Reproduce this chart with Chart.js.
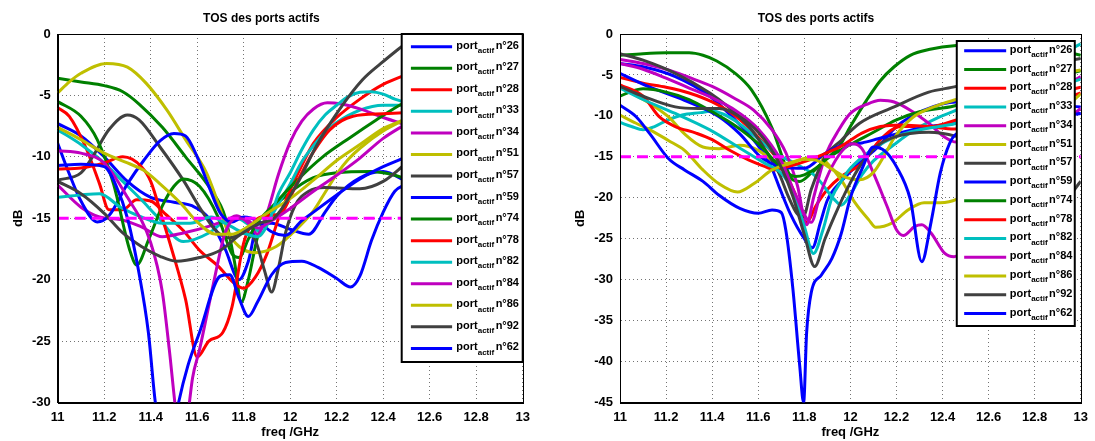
<!DOCTYPE html>
<html>
<head>
<meta charset="utf-8">
<title>TOS des ports actifs</title>
<script src="https://cdn.jsdelivr.net/npm/chart.js@4.4.1/dist/chart.umd.min.js"></script>
<style>
  body { margin: 0; background: #fff; }
  .panel { position: absolute; top: 0; }
</style>
</head>
<body>
<div class="panel" style="left:0"><canvas id="tosLeft" width="548" height="441"></canvas></div>
<div class="panel" style="left:548px"><canvas id="tosRight" width="547" height="441"></canvas></div>
<script>
// ports shown in the legend, in plotting order
const ports = ['26', '27', '28', '33', '34', '51', '57', '59', '74', '78', '82', '84', '86', '92', '62'];
const threshold = -15;

// left panel: [freq GHz, dB]
const L26 = [[11,-7.3],[11.1,-8.3],[11.2,-10],[11.3,-12],[11.4,-13.3],[11.5,-13.7],[11.58,-14],[11.65,-15],[11.72,-17.5],[11.78,-20],[11.82,-18.5],[11.86,-15.5],[11.92,-15.4],[12,-15.9],[12.08,-16.3],[12.15,-14.5],[12.2,-13.2],[12.3,-11.7],[12.4,-11.2],[12.5,-12]];
const L27 = [[11,-3.6],[11.1,-3.9],[11.2,-4.2],[11.28,-4.7],[11.35,-5.7],[11.45,-7.6],[11.55,-10],[11.66,-12.7],[11.72,-14.9],[11.76,-18.5],[11.79,-21.8],[11.82,-20],[11.86,-16.5],[11.9,-14.8],[12,-12.9],[12.1,-11.7],[12.2,-11.3],[12.35,-11.2],[12.45,-11.5],[12.5,-11.8]];
const L28 = [[11,-6],[11.05,-6.7],[11.12,-9.2],[11.18,-12.2],[11.22,-14.3],[11.28,-14.3],[11.34,-13.5],[11.4,-13.6],[11.46,-14.6],[11.54,-16],[11.61,-17.6],[11.69,-18.9],[11.76,-20.3],[11.8,-20.7],[11.85,-19.8],[11.9,-17.9],[11.95,-15],[12,-12.7],[12.05,-10.7],[12.1,-8.9],[12.2,-6.8],[12.3,-5.3],[12.4,-4.1],[12.5,-3.3]];
const L33 = [[11,-7.8],[11.1,-9],[11.2,-10.5],[11.28,-12],[11.36,-13.5],[11.43,-14.9],[11.54,-16.9],[11.65,-16.2],[11.72,-15.2],[11.77,-15],[11.82,-15.5],[11.86,-16],[11.9,-15.4],[11.95,-13.8],[12,-12.2],[12.05,-10.4],[12.1,-9.1],[12.15,-8],[12.2,-7.2],[12.3,-6.2],[12.4,-5.8],[12.5,-5.8]];
const L34 = [[11,-12.3],[11.1,-14.1],[11.18,-14.9],[11.27,-15.1],[11.36,-15.7],[11.45,-16.5],[11.54,-16.2],[11.66,-15.6],[11.73,-15.1],[11.77,-14.8],[11.82,-15.4],[11.86,-16.3],[11.9,-14.6],[11.95,-11.4],[12,-8.8],[12.05,-7.1],[12.1,-6.1],[12.16,-5.6],[12.22,-5.7],[12.3,-6.1],[12.4,-6.8],[12.5,-7.4]];
const L51 = [[11,-4.8],[11.05,-3.9],[11.1,-3.2],[11.21,-2.4],[11.3,-2.7],[11.38,-4],[11.47,-6.2],[11.55,-8.6],[11.64,-11.3],[11.7,-14.3],[11.73,-16],[11.78,-17.3],[11.85,-17.8],[11.94,-17.3],[12.01,-16.2],[12.1,-14.4],[12.15,-12.9],[12.2,-11.4],[12.25,-10.2],[12.3,-9.3],[12.4,-7.9],[12.5,-6.9]];
const L57 = [[11,-11.9],[11.1,-11.3],[11.15,-10],[11.22,-7.8],[11.3,-6.6],[11.35,-7],[11.44,-9.2],[11.54,-11.9],[11.61,-14.1],[11.68,-16],[11.74,-16.6],[11.8,-16.2],[11.85,-16.8],[11.89,-19.3],[11.92,-21],[11.95,-19],[11.98,-16.2],[12.02,-14],[12.08,-12.8],[12.15,-12.5],[12.3,-12.6],[12.4,-12],[12.5,-10.5]];
const L59 = [[11,-8.9],[11.05,-11.4],[11.1,-13.6],[11.17,-15.3],[11.22,-14.8],[11.3,-12.2],[11.37,-10.3],[11.44,-8.7],[11.5,-8.1],[11.55,-8.3],[11.6,-10],[11.65,-12.4],[11.7,-14.6],[11.75,-15.3],[11.8,-14.9],[11.86,-15.2],[11.92,-16.1],[11.98,-16.4],[12.05,-15.2],[12.1,-14.5],[12.2,-13.1],[12.3,-11.8],[12.4,-10.8],[12.5,-10]];
const L74 = [[11,-5.5],[11.1,-6.7],[11.17,-8.6],[11.24,-12.2],[11.31,-17.6],[11.34,-18.8],[11.39,-16.8],[11.45,-14],[11.5,-12.4],[11.54,-11.8],[11.61,-12.4],[11.69,-14.9],[11.75,-17.9],[11.78,-18.2],[11.82,-16.7],[11.86,-15.3],[11.91,-14.3],[12.03,-11.9],[12.14,-10],[12.26,-8.4],[12.37,-7],[12.47,-5.8],[12.5,-5.5]];
const L78 = [[11,-11],[11.1,-10.9],[11.2,-10.5],[11.28,-10],[11.36,-10.8],[11.4,-12],[11.45,-15],[11.49,-17.5],[11.55,-21.6],[11.6,-26.3],[11.65,-25],[11.71,-24.3],[11.75,-22.2],[11.8,-17],[11.85,-15.2],[11.9,-14.8],[11.96,-14.6],[12,-13.3],[12.05,-11.3],[12.1,-9.6],[12.17,-7.8],[12.27,-6.7],[12.4,-6.5],[12.5,-6.4]];
const L82 = [[11,-13.3],[11.1,-13.1],[11.18,-13],[11.27,-14.1],[11.36,-14.9],[11.45,-15.4],[11.57,-15.4],[11.66,-14.9],[11.72,-15.4],[11.8,-16.2],[11.86,-16.5],[11.91,-15.2],[11.95,-13],[12,-11.3],[12.05,-9.4],[12.1,-7.8],[12.15,-6.6],[12.2,-5.8],[12.25,-5.1],[12.3,-4.75],[12.35,-4.7],[12.4,-4.9],[12.45,-5.3],[12.5,-5.6]];
const L84 = [[11,-9.5],[11.1,-9.7],[11.2,-10.5],[11.3,-13.3],[11.4,-17],[11.45,-21],[11.48,-25.7],[11.51,-31],[11.535,-34],[11.56,-31],[11.58,-28],[11.61,-25.7],[11.67,-20.3],[11.72,-16.2],[11.77,-15],[11.82,-15.2],[11.86,-15.8],[11.92,-15.2],[12,-14.2],[12.1,-12.8],[12.2,-11.5],[12.3,-10.1],[12.4,-8.5],[12.5,-7.3]];
const L86 = [[11,-7.6],[11.1,-8.6],[11.2,-9.7],[11.3,-10.5],[11.37,-11.1],[11.44,-12.2],[11.53,-13.8],[11.6,-15.3],[11.68,-16.3],[11.75,-16.3],[11.8,-15.9],[11.9,-14.6],[12,-13.4],[12.1,-11.9],[12.2,-10.3],[12.3,-9],[12.4,-7.7],[12.5,-6.9]];
const L92 = [[11,-12],[11.1,-13],[11.2,-14.6],[11.28,-16.2],[11.36,-17.3],[11.44,-18.1],[11.51,-18.5],[11.61,-18.2],[11.7,-17.6],[11.78,-16.4],[11.87,-15.4],[11.93,-15],[12.03,-12.2],[12.11,-9.2],[12.21,-6.2],[12.31,-3.75],[12.39,-2.4],[12.5,-0.7]];
const L62 = [[11,-10.7],[11.1,-10.6],[11.2,-10.8],[11.25,-12.3],[11.3,-15],[11.35,-19.5],[11.39,-24.3],[11.42,-30],[11.47,-35],[11.52,-30],[11.56,-27],[11.61,-24.3],[11.7,-19.7],[11.74,-19.6],[11.78,-21.5],[11.82,-23],[11.86,-21.8],[11.92,-19.6],[11.98,-18.6],[12.05,-18.5],[12.12,-19],[12.2,-19.9],[12.26,-20.6],[12.3,-19.7],[12.35,-16.8],[12.4,-14.5],[12.45,-12.8],[12.5,-12.2]];

// right panel: [freq GHz, dB]
const R26 = [[11,-3.6],[11.1,-4],[11.24,-5.2],[11.39,-7.6],[11.5,-10.5],[11.59,-13.3],[11.65,-15.8],[11.69,-18.6],[11.74,-22],[11.8,-25],[11.835,-26.1],[11.87,-23],[11.9,-20.3],[11.96,-18],[12.05,-15.5],[12.12,-13.8],[12.2,-11.3],[12.32,-9.3],[12.46,-8.3],[12.7,-8.3],[13,-8.9]];
const R27 = [[11,-2.6],[11.1,-2.4],[11.2,-2.3],[11.3,-2.3],[11.36,-2.6],[11.42,-3.3],[11.5,-4.8],[11.57,-6.8],[11.66,-11.5],[11.72,-16.2],[11.75,-17.8],[11.78,-18],[11.83,-17],[11.89,-15.4],[11.95,-13.8],[12,-11.3],[12.07,-8.1],[12.13,-5.7],[12.19,-4],[12.26,-2.6],[12.34,-1.9],[12.46,-1.4],[12.6,-1.3],[12.75,-1.5],[12.9,-2],[13,-2.6]];
const R28 = [[11,-5.3],[11.1,-6],[11.2,-6.5],[11.3,-7.2],[11.4,-8.3],[11.5,-10],[11.6,-12.6],[11.7,-16],[11.76,-19.5],[11.81,-23],[11.85,-21],[11.9,-19],[11.96,-17.4],[12.05,-15.8],[12.13,-12.9],[12.22,-11.3],[12.32,-11.3],[12.45,-11.6],[12.7,-10],[13,-7.2]];
const R33 = [[11,-10.8],[11.05,-11.3],[11.1,-11.7],[11.15,-11.3],[11.2,-10.6],[11.27,-9.9],[11.35,-9.6],[11.4,-9.4],[11.45,-9.8],[11.5,-10.6],[11.6,-12.8],[11.67,-14.5],[11.76,-15.8],[11.85,-17.4],[11.93,-20.2],[11.96,-20.9],[12,-19.6],[12.05,-17.2],[12.1,-15.5],[12.19,-13.5],[12.28,-11.7],[12.39,-10.1],[12.46,-9.3],[12.7,-5.5],[13,-1.2]];
const R34 = [[11,-3.1],[11.1,-3.6],[11.2,-4.3],[11.3,-5.3],[11.4,-6.4],[11.5,-7.9],[11.58,-9.3],[11.66,-11.7],[11.72,-14.5],[11.77,-18.5],[11.81,-23.3],[11.84,-20],[11.89,-15],[11.95,-11.7],[12,-9.7],[12.07,-8.6],[12.13,-8.1],[12.19,-8.3],[12.26,-9.3],[12.34,-10.9],[12.41,-12.6],[12.46,-13.2],[12.7,-10],[13,-5.2]];
const R51 = [[11,-6.5],[11.13,-8.5],[11.21,-10.1],[11.28,-12.2],[11.36,-13.8],[11.43,-14],[11.52,-13.6],[11.6,-14.2],[11.66,-15.4],[11.72,-15.8],[11.8,-15.2],[11.86,-15],[11.9,-15.8],[11.96,-17.8],[12.02,-20.6],[12.08,-22.7],[12.11,-23.6],[12.18,-23.1],[12.25,-21.5],[12.32,-20.6],[12.39,-20.6],[12.46,-20.2],[12.7,-15],[13,-7.3]];
const R57 = [[11,-2.4],[11.1,-3.2],[11.24,-4.8],[11.39,-7.2],[11.47,-8.9],[11.56,-11.3],[11.63,-14.1],[11.69,-17],[11.73,-19.8],[11.77,-22],[11.795,-22.3],[11.83,-19],[11.89,-15],[11.96,-13],[12.04,-10.9],[12.19,-8.9],[12.34,-7.1],[12.46,-6.4],[12.7,-4.5],[13,-3]];
const R59 = [[11,-4.8],[11.13,-6.5],[11.28,-8.1],[11.43,-10.1],[11.52,-12.2],[11.61,-15],[11.7,-16.2],[11.8,-16.4],[11.89,-14.6],[11.96,-13.6],[12.05,-13.3],[12.12,-12.8],[12.2,-12.2],[12.3,-11.5],[12.4,-11.1],[12.46,-10.9],[12.7,-10.3],[13,-9.7]];
const R74 = [[11,-7.6],[11.05,-7],[11.1,-6.7],[11.2,-7.1],[11.3,-8],[11.4,-9.5],[11.5,-11.2],[11.6,-13.4],[11.7,-16.3],[11.76,-17.4],[11.8,-17.2],[11.85,-16.4],[11.9,-15.2],[12,-13.5],[12.1,-12],[12.2,-10.5],[12.3,-9.5],[12.45,-8.8],[12.7,-6.5],[13,-4.5]];
const R78 = [[11,-6.2],[11.1,-7.6],[11.17,-10.1],[11.24,-11.3],[11.33,-12.1],[11.4,-12.9],[11.47,-14.1],[11.56,-15.4],[11.63,-16.2],[11.67,-16.6],[11.73,-16.2],[11.82,-15.4],[11.89,-14.6],[11.96,-13.7],[12.05,-12.1],[12.13,-11.3],[12.22,-11.1],[12.35,-11.3],[12.46,-10.5],[12.7,-8.5],[13,-6.5]];
const R82 = [[11,-6.6],[11.1,-8],[11.24,-9.7],[11.39,-11.7],[11.53,-14.1],[11.63,-15.8],[11.7,-17],[11.75,-19.2],[11.8,-23.5],[11.84,-26.8],[11.88,-24],[11.92,-20],[11.96,-18],[12,-16.4],[12.1,-14],[12.2,-12.5],[12.3,-11.7],[12.46,-10.9],[12.7,-8.5],[13,-5.5]];
const R84 = [[11,-3.6],[11.1,-4.3],[11.2,-5.4],[11.3,-6.6],[11.4,-7.8],[11.5,-9.3],[11.6,-11.6],[11.7,-15.5],[11.76,-19.5],[11.83,-23],[11.87,-19.5],[11.92,-16.2],[11.98,-13.8],[12.01,-13.4],[12.05,-14],[12.1,-17],[12.16,-21.1],[12.2,-23.9],[12.23,-24.6],[12.28,-23.5],[12.31,-23.3],[12.35,-24.3],[12.41,-26.8],[12.45,-27.2],[12.5,-26],[12.7,-16],[13,-9.1]];
const R86 = [[11,-9.9],[11.07,-10.9],[11.13,-11.7],[11.21,-13],[11.28,-14.2],[11.36,-16.6],[11.43,-18.3],[11.51,-19.3],[11.58,-18.3],[11.66,-16.6],[11.74,-15.8],[11.8,-15.3],[11.86,-15.5],[11.92,-16.5],[11.98,-17.5],[12.04,-17.8],[12.1,-16.9],[12.15,-14.7],[12.19,-12.7],[12.27,-10.2],[12.39,-8.6],[12.46,-8],[12.7,-6],[13,-4.4]];
const R92 = [[11,-6.4],[11.1,-7.6],[11.24,-8.9],[11.34,-9.1],[11.43,-9.1],[11.52,-10.1],[11.6,-12],[11.65,-13.8],[11.7,-16.3],[11.75,-19.8],[11.8,-24.5],[11.845,-28.4],[11.89,-25],[11.93,-22.3],[11.99,-18.7],[12.04,-16.2],[12.11,-13.8],[12.19,-12.6],[12.34,-12],[12.46,-12.5],[12.7,-15],[12.94,-19.8],[13,-18]];
const R62 = [[11,-8.7],[11.07,-10.1],[11.13,-12.2],[11.21,-15.2],[11.28,-16.6],[11.36,-18],[11.43,-19.7],[11.52,-21.3],[11.6,-21.9],[11.66,-21.5],[11.7,-21.8],[11.72,-24],[11.75,-31],[11.78,-40.5],[11.797,-45],[11.81,-36.5],[11.83,-31.6],[11.875,-29.4],[11.92,-27.4],[11.96,-24.4],[12,-20],[12.05,-16.5],[12.1,-13.8],[12.15,-14.3],[12.2,-16.2],[12.26,-20.2],[12.31,-27.8],[12.35,-23],[12.39,-17],[12.43,-13.4],[12.46,-12.2],[12.7,-10.5],[13,-9.7]];

const leftSeries = [L26, L27, L28, L33, L34, L51, L57, L59, L74, L78, L82, L84, L86, L92, L62];
const rightSeries = [R26, R27, R28, R33, R34, R51, R57, R59, R74, R78, R82, R84, R86, R92, R62];

const C = {
  blue: '#0000ff', green: '#008000', red: '#ff0000', cyan: '#00bfbf',
  magenta: '#bf00bf', yellow: '#bfbf00', gray: '#404040'
};
const portColors = [C.blue, C.green, C.red, C.cyan, C.magenta, C.yellow, C.gray,
  C.blue, C.green, C.red, C.cyan, C.magenta, C.yellow, C.gray, C.blue];

const FONT = '"Liberation Sans", Arial, Helvetica, sans-serif';

const makeDatasets = (series) => {
  const sets = series.map((pts, i) => ({
    label: 'port actif n°' + ports[i],
    data: pts.map(([x, y]) => ({ x, y })),
    borderColor: portColors[i],
    borderWidth: 3,
    pointRadius: 0,
    cubicInterpolationMode: 'monotone',
    clip: 0,
    order: series.length - i
  }));
  sets.push({
    label: 'seuil',
    data: [{ x: 11, y: threshold }, { x: 13, y: threshold }],
    borderColor: '#ff00ff',
    borderWidth: 3,
    borderDash: [11, 6],
    pointRadius: 0,
    clip: 0,
    order: -1
  });
  return sets;
};

// box around the axes + MATLAB-like legend with subscript
const frameLegend = {
  id: 'frameLegend',
  afterDraw(chart, args, opts) {
    const { ctx, chartArea: a } = chart;
    ctx.save();
    ctx.strokeStyle = '#000';
    ctx.lineWidth = 1;
    ctx.strokeRect(Math.round(a.left) + 0.5, Math.round(a.top) + 0.5,
      Math.round(a.right - a.left), Math.round(a.bottom - a.top));

    const x0 = a.right - opts.right - opts.width;
    const y0 = a.top + opts.top;
    ctx.fillStyle = '#fff';
    ctx.fillRect(x0, y0, opts.width, opts.height);
    ctx.lineWidth = 2;
    ctx.strokeRect(x0, y0, opts.width, opts.height);

    ports.forEach((p, i) => {
      const y = y0 + opts.first + i * opts.step;
      ctx.strokeStyle = portColors[i];
      ctx.lineWidth = 3;
      ctx.beginPath();
      ctx.moveTo(x0 + opts.lineStart, y);
      ctx.lineTo(x0 + opts.lineEnd, y);
      ctx.stroke();

      ctx.fillStyle = '#000';
      ctx.textBaseline = 'middle';
      let tx = x0 + opts.textStart;
      ctx.font = 'bold 11px ' + FONT;
      ctx.fillText('port', tx, y - 1);
      tx += ctx.measureText('port').width;
      ctx.font = 'bold 8px ' + FONT;
      ctx.fillText('actif', tx, y + 4);
      tx += ctx.measureText('actif').width + 1.5;
      ctx.font = 'bold 11px ' + FONT;
      ctx.fillText('n°' + p, tx, y - 1);
    });
    ctx.restore();
  }
};

const buildOptions = (cfg) => ({
  responsive: false,
  animation: false,
  layout: { padding: { left: 0, right: cfg.padRight, top: 0, bottom: 0 } },
  plugins: {
    legend: { display: false },
    tooltip: { enabled: false },
    title: {
      display: true,
      text: 'TOS des ports actifs',
      color: '#000',
      font: { family: FONT, size: 12, weight: 'bold' },
      padding: { top: 11.5, bottom: 8.1 }
    },
    frameLegend: cfg.legend
  },
  scales: {
    x: {
      type: 'linear',
      min: 11,
      max: 13,
      afterFit: (scale) => { scale.height = 38.5; },
      ticks: {
        stepSize: 0.2,
        autoSkip: false,
        maxRotation: 0,
        padding: 7,
        color: '#000',
        font: { family: FONT, size: 13, weight: 'bold' },
        callback: (v) => String(Number(v.toFixed(1)))
      },
      grid: { color: 'rgba(0,0,0,0.55)', lineWidth: 1, drawTicks: false },
      border: { display: true, color: '#000', width: 1, dash: [1, 3] },
      title: {
        display: true,
        text: 'freq /GHz',
        color: '#000',
        font: { family: FONT, size: 13, weight: 'bold' },
        padding: { top: 0, bottom: 0.5 }
      }
    },
    y: {
      min: cfg.yMin,
      max: 0,
      afterFit: (scale) => { scale.width = cfg.axisLeft; },
      ticks: {
        stepSize: 5,
        padding: 7,
        color: '#000',
        font: { family: FONT, size: 13, weight: 'bold' }
      },
      grid: { color: 'rgba(0,0,0,0.55)', lineWidth: 1, drawTicks: false },
      border: { display: true, color: '#000', width: 1, dash: [1, 3] },
      title: {
        display: true,
        text: 'dB',
        color: '#000',
        font: { family: FONT, size: 13, weight: 'bold' },
        padding: { top: cfg.dbOffset, bottom: 0 }
      }
    }
  }
});

new Chart(document.getElementById('tosLeft'), {
  type: 'line',
  data: { datasets: makeDatasets(leftSeries) },
  options: buildOptions({
    yMin: -30, axisLeft: 57.7, padRight: 25.3, dbOffset: 10.8,
    legend: { right: 0, top: 0, width: 121, height: 328, first: 12.7, step: 21.55, lineStart: 9.2, lineEnd: 50.4, textStart: 54.6 }
  }),
  plugins: [frameLegend]
});

new Chart(document.getElementById('tosRight'), {
  type: 'line',
  data: { datasets: makeDatasets(rightSeries) },
  options: buildOptions({
    yMin: -45, axisLeft: 72, padRight: 11, dbOffset: 24.3,
    legend: { right: 6, top: 7, width: 118, height: 285, first: 9.7, step: 18.77, lineStart: 7.4, lineEnd: 49.4, textStart: 53 }
  }),
  plugins: [frameLegend]
});
</script>
</body>
</html>
